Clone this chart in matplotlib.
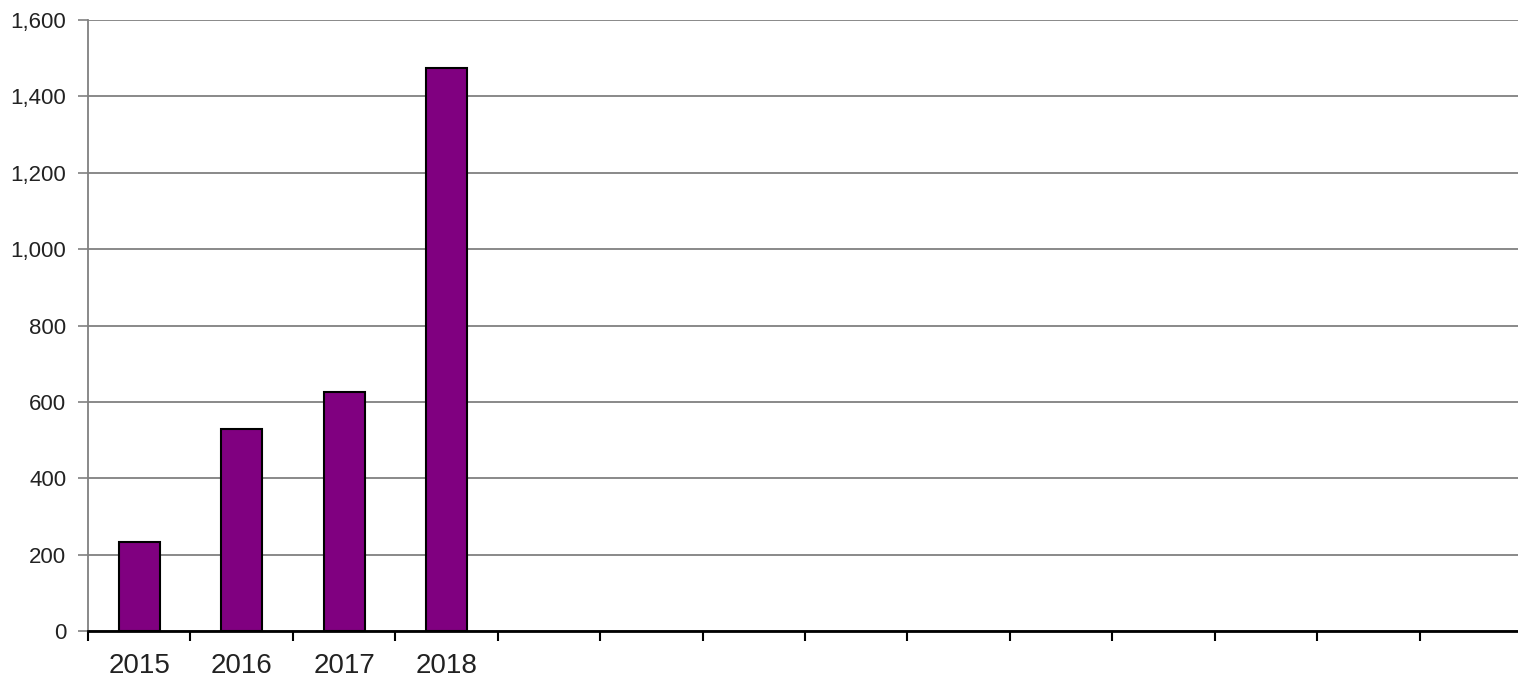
import matplotlib
matplotlib.use("Agg")
import matplotlib.pyplot as plt
import numpy as np

categories = ["2015", "2016", "2017", "2018"] + [""] * 10
values = [233, 529, 626, 1474]
yticks = [0, 200, 400, 600, 800, 1000, 1200, 1400, 1600]
ytick_labels = ["0", "200", "400", "600", "800", "1,000", "1,200", "1,400", "1,600"]

plt.rcParams['font.family'] = ['Liberation Sans', 'DejaVu Sans']

fig = plt.figure(figsize=(15.18, 6.77), dpi=100)
ax = fig.add_axes([88/1518, 1 - 631/677, (1522 - 88)/1518, (631 - 20)/677])

n = len(categories)
x = np.arange(len(values)) + 0.5
ax.bar(x, values, width=0.40, color="#800080", edgecolor="black", linewidth=1.5, zorder=3)

ax.set_xlim(0, n)
ax.set_ylim(0, 1600)
ax.set_yticks(yticks)
ax.set_yticklabels(ytick_labels, fontsize=16, color="#222222")
ax.yaxis.grid(True, color="#808080", linewidth=1.3, zorder=0)
ax.set_axisbelow(True)

ax.set_xticks(np.arange(n + 1))
ax.set_xticklabels([])
ax.set_xticks(np.arange(n) + 0.5, minor=True)
ax.set_xticklabels(categories, minor=True, fontsize=20, color="#222222")
ax.tick_params(axis="x", which="minor", length=0, pad=16)
ax.tick_params(axis="x", which="major", length=7, width=1.5, color="black", direction="out")
ax.tick_params(axis="y", length=7, width=1.2, color="#808080", pad=8.5)

for s in ["top", "right"]:
    ax.spines[s].set_visible(False)
ax.spines["left"].set_color("#808080")
ax.spines["left"].set_linewidth(1.3)
ax.spines["bottom"].set_color("black")
ax.spines["bottom"].set_linewidth(2)
ax.spines["bottom"].set_zorder(4)

fig.savefig("out.png", dpi=100)
